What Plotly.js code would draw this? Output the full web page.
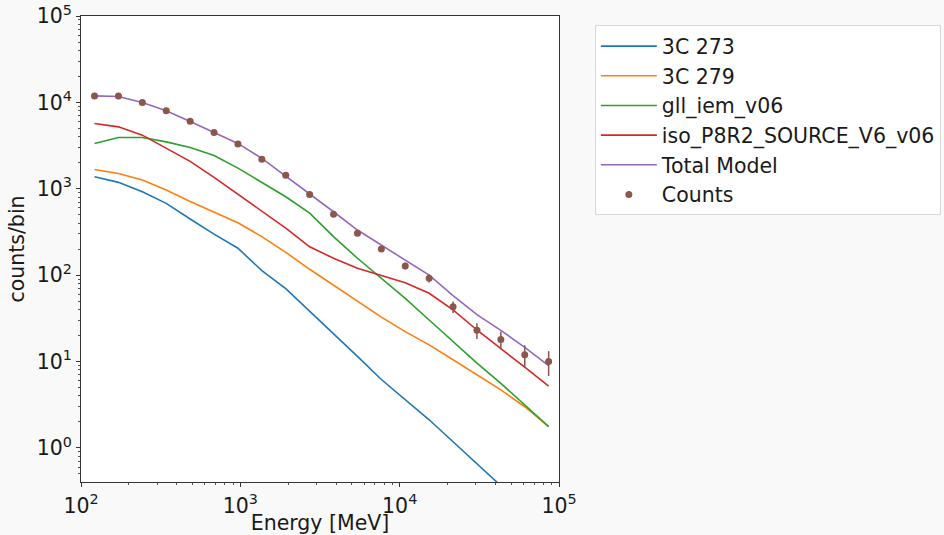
<!DOCTYPE html>
<html>
<head>
<meta charset="utf-8">
<script src="https://cdn.plot.ly/plotly-3.0.1.min.js"></script>
<style>
  html, body { margin: 0; padding: 0; background: #f9f9f9; }
  #chart { width: 944px; height: 535px; }
</style>
</head>
<body>
<div id="chart"></div>
<script>
// Energy bin centres [MeV]
const energy = [121.6, 171.8, 242.7, 342.8, 484.2, 684, 966, 1365, 1928, 2723,
                3846, 5433, 7674, 10840, 15312, 21630, 30550, 43150, 60960, 86100];

// Model components (counts/bin)
const src3C273 = [1376, 1186, 923, 678, 447, 299, 205, 113, 69.8, 38.5,
                  21.3, 11.5, 6.2, 3.6, 2.12, 1.18, 0.656, 0.365, 0.204, 0.113];
const src3C279 = [1675, 1506, 1261, 966, 713, 535, 404, 279, 184, 117,
                  76.6, 50, 32.7, 22.2, 15.6, 10.5, 7.0, 4.7, 3.0, 1.77];
const gllIem   = [3350, 3930, 3930, 3490, 3000, 2430, 1735, 1172, 808, 522,
                  279, 157, 92, 54, 30.3, 17.0, 9.6, 5.6, 3.15, 1.77];
const isoSrc   = [5700, 5210, 4180, 2930, 2080, 1355, 869, 550, 351, 213,
                  157, 120, 99.8, 81.9, 61.8, 39.6, 23.2, 14.3, 8.6, 5.2];
const totalModel = [11900, 11700, 9970, 7980, 6000, 4500, 3350, 2250, 1400, 885,
                    542, 333, 223, 150, 100, 58, 35, 23, 14.6, 9.0];

// Observed counts and their errors
const counts = [11890, 11890, 9970, 7980, 6060, 4490, 3310, 2190, 1430, 861,
                506, 305, 201, 128, 92, 43, 23, 18, 12, 10];
const countErr = [109, 109, 100, 89, 78, 67, 58, 47, 38, 29,
                  22.5, 17.5, 14.2, 11.3, 9.6, 6.6, 4.8, 4.2, 3.5, 3.2];

// Tick labels
const xTickVals = [100, 1000, 10000, 100000];
const xTickText = ['10<sup>2</sup>', '10<sup>3</sup>', '10<sup>4</sup>', '10<sup>5</sup>'];
const yTickVals = [1, 10, 100, 1000, 10000, 100000];
const yTickText = ['10<sup>0</sup>', '10<sup>1</sup>', '10<sup>2</sup>', '10<sup>3</sup>', '10<sup>4</sup>', '10<sup>5</sup>'];

function minorVals(lo, hi) {
  const v = [];
  for (let d = lo; d < hi; d++) for (let k = 2; k <= 9; k++) v.push(k * Math.pow(10, d));
  return v;
}

const lineW = 1.6;
const traces = [
  {x: energy, y: src3C273, name: '3C 273', mode: 'lines', line: {color: '#1f77b4', width: lineW}},
  {x: energy, y: src3C279, name: '3C 279', mode: 'lines', line: {color: '#ff7f0e', width: lineW}},
  {x: energy, y: gllIem, name: 'gll_iem_v06', mode: 'lines', line: {color: '#2ca02c', width: lineW}},
  {x: energy, y: isoSrc, name: 'iso_P8R2_SOURCE_V6_v06', mode: 'lines', line: {color: '#d62728', width: lineW}},
  {x: energy, y: totalModel, name: 'Total Model', mode: 'lines', line: {color: '#9467bd', width: lineW}},
  {x: energy, y: counts, name: 'Counts', mode: 'markers',
   marker: {color: '#8c564b', size: 7},
   error_y: {type: 'data', array: countErr, visible: true, color: '#8c564b', thickness: 1.5, width: 0}}
];

const FS = 20.5;
const fam = 'DejaVu Sans, sans-serif';
const txt = '#1a1a1a';

const layout = {
  width: 944, height: 535,
  margin: {l: 81, r: 385, t: 16, b: 53, autoexpand: false},
  paper_bgcolor: '#f9f9f9',
  plot_bgcolor: '#ffffff',
  font: {family: fam, size: FS, color: txt},
  showlegend: true,
  legend: {
    x: 1.075, y: 0.98, xanchor: 'left', yanchor: 'top',
    bgcolor: '#ffffff', bordercolor: '#d6d6d6', borderwidth: 1,
    font: {family: fam, size: FS, color: txt},
    itemwidth: 56,
    tracegroupgap: 0
  },
  xaxis: {
    type: 'log', range: [2, 5],
    showgrid: false, zeroline: false,
    showline: true, linecolor: '#333333', linewidth: 1, mirror: true,
    ticks: 'outside', ticklen: 4, tickcolor: '#333333', tickwidth: 1,
    ticklabelstandoff: 1,
    tickmode: 'array', tickvals: xTickVals, ticktext: xTickText,
    tickfont: {family: fam, size: FS, color: txt},
    minor: {ticks: 'outside', ticklen: 2, tickcolor: '#555555', tickvals: minorVals(2, 5), showgrid: false},
    title: {text: 'Energy [MeV]', font: {family: fam, size: FS, color: txt}, standoff: 3}
  },
  yaxis: {
    type: 'log', range: [-0.394, 5],
    showgrid: false, zeroline: false,
    showline: true, linecolor: '#333333', linewidth: 1, mirror: true,
    ticks: 'outside', ticklen: 4, tickcolor: '#333333', tickwidth: 1,
    tickmode: 'array', tickvals: yTickVals, ticktext: yTickText,
    tickfont: {family: fam, size: FS, color: txt},
    minor: {ticks: 'outside', ticklen: 2, tickcolor: '#555555', tickvals: minorVals(-1, 5), showgrid: false},
    title: {text: 'counts/bin', font: {family: fam, size: FS, color: txt}, standoff: 6}
  }
};

Plotly.newPlot('chart', traces, layout, {displayModeBar: false, staticPlot: true});
</script>
</body>
</html>
